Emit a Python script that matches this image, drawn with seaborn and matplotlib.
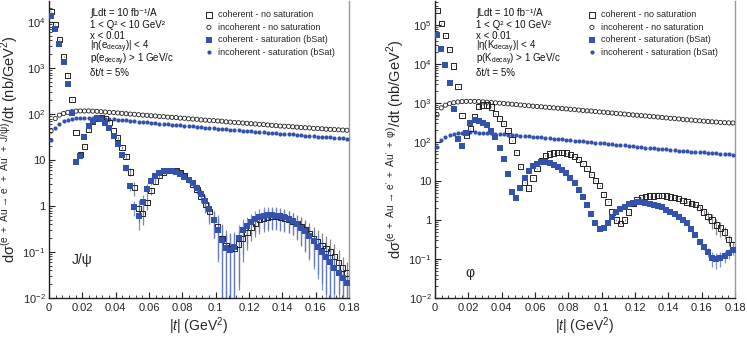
import numpy as np
import matplotlib
matplotlib.use('Agg')
import matplotlib.pyplot as plt
import seaborn as sns
from matplotlib.ticker import FixedLocator, FixedFormatter, LogLocator, NullFormatter, MultipleLocator

# |t| bin centres (0.0025 GeV^2 bins from 0 to 0.18)
t_bins = np.arange(72) * 0.0025 + 0.00125

# ---- J/psi panel ----
jpsi_coh_nosat = [17000, 9000, 4200, 1800, 700, 210, 39, 13, 20, 47,
                  70, 82, 84, 80, 65, 43, 31, 19, 12, 5.5,
                  2.5, 0.9, 0.7, 1.2, 2.2, 3.5, 4.6, 5.4, 5.9, 6.0,
                  5.8, 5.3, 4.6, 3.8, 3.0, 2.3, 1.6, 1.1, 0.75, 0.5,
                  0.35, 0.2, 0.14, 0.12, 0.12, 0.15, 0.2, 0.27, 0.35, 0.42,
                  0.5, 0.55, 0.58, 0.6, 0.6, 0.58, 0.55, 0.52, 0.47, 0.42,
                  0.36, 0.3, 0.25, 0.2, 0.17, 0.14, 0.12, 0.1, 0.08, 0.06,
                  0.045, 0.035]
jpsi_coh_sat = [13500, 7000, 3300, 1350, 450, 105, 9, 12, 32, 55,
                70, 81, 78, 63, 50, 33, 22, 13, 6.7, 2.7,
                0.95, 0.6, 1.2, 2.3, 3.5, 4.6, 5.3, 5.8, 5.9, 5.8,
                5.5, 5.0, 4.3, 3.7, 3.1, 2.5, 1.8, 1.3, 0.85, 0.5,
                0.3, 0.18, 0.12, 0.11, 0.13, 0.2, 0.3, 0.36, 0.45, 0.52,
                0.58, 0.62, 0.63, 0.63, 0.62, 0.6, 0.57, 0.53, 0.47, 0.4,
                0.34, 0.28, 0.22, 0.17, 0.13, 0.1, 0.078, 0.06, 0.045, 0.035,
                0.027, 0.021]
jpsi_inc_nosat = [43, 80, 95, 103, 109, 113, 116, 117, 117, 117,
                  116, 115, 113, 111, 109, 108, 106, 104, 102, 100,
                  99, 97, 95, 94, 92, 91, 89, 88, 86, 85,
                  84, 82, 81, 79, 78, 77, 75, 74, 73, 72,
                  71, 70, 68, 67, 66, 65, 64, 63, 62, 61,
                  60, 59, 58, 57, 56, 55, 54.5, 54, 53, 52,
                  51, 50.5, 50, 49, 48.5, 48, 47, 46.5, 46, 45.5,
                  45, 44.5]
jpsi_inc_sat = [27, 50, 60, 70, 76, 79, 81, 82, 82, 82,
                82, 81, 80, 79, 78, 77, 75, 74, 73, 71,
                70, 69, 67, 66, 65, 64, 62, 61, 60, 59,
                58, 57, 56, 55, 54, 53, 52, 51, 50, 49,
                48, 47, 46.5, 46, 45, 44, 43.5, 43, 42, 41.5,
                41, 40, 39.5, 39, 38, 37.5, 37, 36.5, 36, 35,
                34.5, 34, 33.5, 33, 32.5, 32, 31.5, 31, 30.5, 30,
                29.5, 29]
# relative uncertainties of the coherent points
jpsi_coh_relerr = [0.02] * 16 + [0.05, 0.08, 0.12, 0.2, 0.35, 0.5, 0.45, 0.3, 0.2, 0.15,
                                 0.1, 0.1, 0.1, 0.1, 0.1, 0.1, 0.12, 0.15, 0.18, 0.22,
                                 0.28, 0.35, 0.45, 0.6, 0.8, 1.0, 1.1, 1.2, 1.1, 0.9,
                                 0.7, 0.6, 0.5, 0.5, 0.5, 0.5, 0.5, 0.5, 0.5, 0.5,
                                 0.5, 0.5, 0.5, 0.55, 0.6, 0.65, 0.7, 0.75, 0.8, 0.85,
                                 0.9, 0.9, 0.85, 0.8, 0.75, 0.7]

# ---- phi panel ----
phi_coh_nosat = [240000, 110000, 55000, 24000, 8900, 2600, 470, 150, 220, 450,
                 830, 890, 890, 790, 550, 400, 300, 200, 112, 55,
                 23, 9, 6.6, 12, 21, 33, 44, 49, 52, 53,
                 53, 52, 48, 42, 36, 28, 21, 15, 10.5, 7.5,
                 4.6, 2.9, 1.6, 1.0, 0.8, 1.0, 1.6, 2.6, 3.3, 3.8,
                 4.0, 4.1, 4.1, 4.2, 4.2, 4.1, 3.9, 3.7, 3.5, 3.2,
                 2.9, 2.7, 2.5, 2.1, 1.6, 1.25, 1.0, 0.74, 0.62, 0.49,
                 0.31, 0.23]
phi_coh_sat = [55000, 24000, 9300, 3200, 720, 120, 80, 170, 310, 360,
               345, 310, 280, 190, 135, 70, 37, 15, 5.2, 3.6,
               6.8, 12, 18, 24, 28, 30, 30, 29, 26, 23,
               19, 16, 12, 8.9, 5.9, 3.9, 2.4, 1.4, 0.83, 0.6,
               0.64, 0.83, 1.2, 1.6, 1.9, 2.2, 2.5, 2.7, 2.9, 2.9,
               2.8, 2.6, 2.4, 2.25, 2.1, 1.85, 1.6, 1.4, 1.2, 1.0,
               0.83, 0.6, 0.42, 0.27, 0.2, 0.15, 0.105, 0.1, 0.105, 0.12,
               0.14, 0.17]
phi_inc_nosat = [500, 750, 880, 960, 1020, 1060, 1090, 1100, 1100, 1100,
                 1090, 1070, 1050, 1030, 1010, 990, 970, 950, 930, 910,
                 890, 870, 850, 830, 815, 800, 780, 765, 750, 735,
                 720, 705, 690, 675, 660, 645, 630, 620, 605, 590,
                 580, 565, 555, 540, 530, 520, 505, 495, 485, 475,
                 465, 455, 445, 435, 425, 415, 405, 400, 390, 380,
                 372, 365, 357, 350, 343, 336, 330, 324, 318, 313,
                 310, 307]
phi_inc_sat = [74, 112, 135, 150, 160, 167, 172, 175, 176, 176,
               175, 173, 170, 167, 164, 161, 158, 155, 152, 149,
               146, 143, 140, 137, 134, 131, 128, 125, 122, 119,
               116, 113, 110, 108, 105, 103, 100, 98, 96, 94,
               92, 90, 88, 86, 84, 82, 80, 78, 76, 74,
               72, 70.5, 69, 67.5, 66, 64.5, 63, 61.5, 60, 59,
               58, 57, 56, 55, 54, 53, 52, 51, 50, 49,
               48, 47]
phi_coh_relerr = [0.03] * 60 + [0.06, 0.08, 0.1, 0.12, 0.15, 0.25,
                                0.4, 0.45, 0.4, 0.35, 0.3, 0.25]

x_ticks = [0, 0.02, 0.04, 0.06, 0.08, 0.1, 0.12, 0.14, 0.16, 0.18]
x_ticklabels = ['0', '0.02', '0.04', '0.06', '0.08', '0.1', '0.12', '0.14', '0.16', '0.18']

BLUE = '#3352ad'
DARK = '#222222'

plt.rcParams['mathtext.fontset'] = 'custom'
plt.rcParams['mathtext.rm'] = 'Liberation Sans'
plt.rcParams['mathtext.it'] = 'Liberation Sans:italic'
plt.rcParams['mathtext.sf'] = 'Liberation Sans'
sns.set_style('ticks')
plt.rcParams['font.family'] = ['Liberation Sans', 'DejaVu Sans']


def draw_panel(ax, coh_nosat, inc_nosat, coh_sat, inc_sat, relerr, ymax, ydecades,
               info, label, label_pos, ylab, leg_x):
    coh_nosat = np.array(coh_nosat)
    coh_sat = np.array(coh_sat)
    relerr = np.array(relerr)

    ax.errorbar(t_bins, coh_nosat, yerr=coh_nosat * relerr, fmt='none',
                ecolor='#6a6a6a', elinewidth=0.9, alpha=0.8, zorder=2)
    ax.errorbar(t_bins, coh_sat, yerr=coh_sat * relerr, fmt='none',
                ecolor='#5a78c8', elinewidth=0.9, alpha=0.8, zorder=2)

    sns.scatterplot(x=t_bins, y=inc_nosat, ax=ax, marker='o', s=9, facecolor='none',
                    edgecolor=DARK, linewidth=0.6, zorder=3,
                    label='incoherent - no saturation')
    sns.scatterplot(x=t_bins, y=inc_sat, ax=ax, marker='o', s=9, color=BLUE,
                    edgecolor=BLUE, linewidth=0, zorder=4,
                    label='incoherent - saturation (bSat)')
    sns.scatterplot(x=t_bins, y=coh_nosat, ax=ax, marker='s', s=14, facecolor='none',
                    edgecolor=DARK, linewidth=0.7, zorder=5,
                    label='coherent - no saturation')
    sns.scatterplot(x=t_bins, y=coh_sat, ax=ax, marker='s', s=13, color=BLUE,
                    edgecolor=BLUE, linewidth=0, zorder=6,
                    label='coherent - saturation (bSat)')

    ax.set_yscale('log')
    ax.set_xlim(0, 0.18)
    ax.set_ylim(0.01, ymax)

    yt = [10.0 ** k for k in ydecades]
    names = {-2: '$10^{-2}$', -1: '$10^{-1}$', 0: '1', 1: '10'}
    ylabels = [names.get(k, '$10^{%d}$' % k) for k in ydecades]
    ax.yaxis.set_major_locator(FixedLocator(yt))
    ax.yaxis.set_major_formatter(FixedFormatter(ylabels))
    ax.yaxis.set_minor_locator(LogLocator(base=10, subs=np.arange(2, 10), numticks=20))
    ax.yaxis.set_minor_formatter(NullFormatter())
    ax.xaxis.set_major_locator(FixedLocator(x_ticks))
    ax.xaxis.set_major_formatter(FixedFormatter(x_ticklabels))
    ax.xaxis.set_minor_locator(MultipleLocator(0.004))

    ax.tick_params(which='both', direction='in', top=False, right=False, labelsize=8,
                   color='#222222')
    ax.tick_params(axis='y', which='major', length=4.5, pad=2.5)
    ax.tick_params(axis='y', which='minor', length=2.5)
    ax.tick_params(axis='x', which='major', length=4.5, pad=3.5)
    ax.tick_params(axis='x', which='minor', length=2.5)

    for side in ['left', 'bottom']:
        ax.spines[side].set_color('#222222')
        ax.spines[side].set_linewidth(1.0)
    ax.spines['right'].set_color('#9a9a9a')
    ax.spines['right'].set_linewidth(1.0)
    ax.spines['top'].set_visible(False)

    ax.set_xlabel('|$t$| (GeV$^{2}$)', fontsize=10, labelpad=1.5)
    ax.set_ylabel(ylab, fontsize=10.5, labelpad=1.5)

    line_y = [0.958, 0.92, 0.882, 0.846, 0.801, 0.756]
    for txt, yy in zip(info, line_y):
        ax.text(0.137, yy, txt, transform=ax.transAxes, fontsize=7.0, va='center',
                ha='left', color='#111111')
    ax.text(label_pos[0], label_pos[1], label, transform=ax.transAxes, fontsize=10,
            va='center', ha='left')

    handles, labels = ax.get_legend_handles_labels()
    order = ['coherent - no saturation', 'incoherent - no saturation',
             'coherent - saturation (bSat)', 'incoherent - saturation (bSat)']
    hmap = dict(zip(labels, handles))
    ax.legend([hmap[k] for k in order], order, loc='upper left',
              bbox_to_anchor=(leg_x, 0.99), frameon=False, fontsize=6.5,
              handlelength=0.8, handletextpad=0.6, labelspacing=0.38, borderpad=0.2,
              markerscale=1.0)


fig = plt.figure(figsize=(7.47, 3.38), dpi=100)
ax1 = fig.add_axes([49 / 747, 40 / 338, 300 / 747, 297 / 338])
ax2 = fig.add_axes([435 / 747, 40 / 338, 300 / 747, 297 / 338])

info_jpsi = ['∫Ldt = 10 fb⁻¹/A', '1 < Q² < 10 GeV²', 'x < 0.01',
             '|η(e$_{\\mathrm{decay}}$)| < 4', 'p(e$_{\\mathrm{decay}}$) > 1 GeV/c',
             'δt/t = 5%']
info_phi = ['∫Ldt = 10 fb⁻¹/A', '1 < Q² < 10 GeV²', 'x < 0.01',
            '|η(K$_{\\mathrm{decay}}$)| < 4', 'p(K$_{\\mathrm{decay}}$) > 1 GeV/c',
            'δt/t = 5%']

ylab_jpsi = ('dσ$^{\\mathrm{(e\\ +\\ Au\\ →\\ e^{\\prime}\\ +\\ Au^{\\prime}\\ +\\ J/ψ)}}$'
             '/dt (nb/GeV$^{2}$)')
ylab_phi = ('dσ$^{\\mathrm{(e\\ +\\ Au\\ →\\ e^{\\prime}\\ +\\ Au^{\\prime}\\ +\\ φ)}}$'
            '/dt (nb/GeV$^{2}$)')

draw_panel(ax1, jpsi_coh_nosat, jpsi_inc_nosat, jpsi_coh_sat, jpsi_inc_sat,
           jpsi_coh_relerr, 10 ** 4.46, list(range(-2, 5)), info_jpsi, 'J/ψ',
           (0.077, 0.128), ylab_jpsi, 0.5)
draw_panel(ax2, phi_coh_nosat, phi_inc_nosat, phi_coh_sat, phi_inc_sat,
           phi_coh_relerr, 10 ** 5.615, list(range(-2, 6)), info_phi, 'φ',
           (0.1, 0.084), ylab_phi, 0.49)

fig.savefig('out.png', dpi=100)
